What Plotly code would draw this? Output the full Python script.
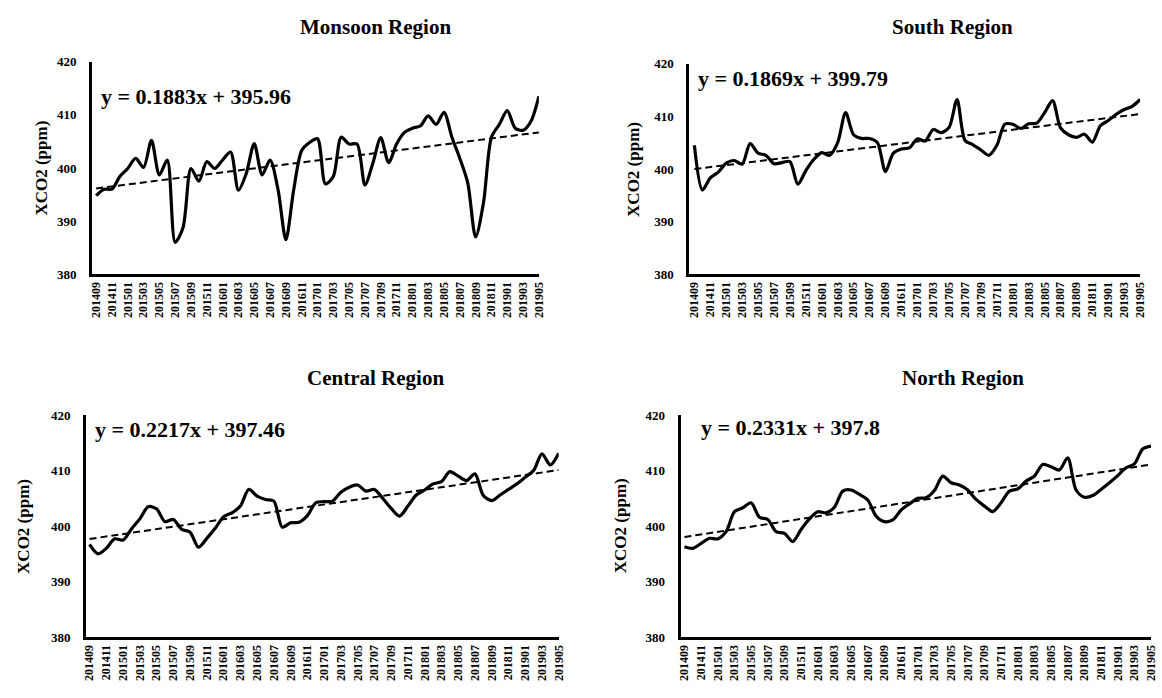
import plotly.graph_objects as go
import pandas as pd

# ---------------- data ----------------
months = [d.strftime("%Y%m") for d in pd.date_range("2014-09-01", "2019-05-01", freq="MS")]
tick_labels = months[::2]

monsoon = [394.8, 396.0, 396.0, 398.4, 399.9, 401.8, 400.1, 405.2, 398.7, 401.5,
           386.0, 388.8, 399.9, 397.5, 401.2, 399.9, 401.5, 403.0, 395.8, 399.0,
           404.6, 398.7, 401.5, 396.0, 386.5, 396.0, 403.3, 404.8, 405.5, 397.0,
           398.4, 405.8, 404.5, 404.5, 396.8, 400.9, 405.7, 401.0, 404.5, 406.7,
           407.5, 407.9, 409.8, 408.2, 410.5, 405.8, 401.8, 397.2, 387.0, 393.5,
           405.8, 408.2, 410.8, 407.5, 407.1, 408.8, 413.5]
south = [404.5, 396.0, 398.3, 399.4, 401.1, 401.6, 400.9, 404.8, 403.0, 402.6,
         401.0, 401.2, 401.4, 397.1, 399.7, 401.8, 403.1, 402.6, 405.0, 410.7,
         406.5, 405.8, 405.8, 405.0, 399.5, 403.0, 403.8, 404.0, 405.7, 405.3,
         407.5, 406.9, 407.9, 413.2, 405.4, 404.6, 403.6, 402.6, 404.5, 408.5,
         408.5, 407.7, 408.6, 408.7, 410.7, 413.0, 407.8, 406.5, 406.0, 406.6,
         405.1, 408.2, 409.2, 410.4, 411.3, 411.9, 413.2]
central = [396.7, 395.0, 396.0, 397.7, 397.5, 399.5, 401.3, 403.5, 403.1, 400.8,
           401.2, 399.4, 398.9, 396.2, 397.8, 399.6, 401.7, 402.4, 403.6, 406.6,
           405.4, 404.8, 404.5, 399.8, 400.6, 400.7, 401.9, 404.2, 404.4, 404.5,
           406.1, 407.0, 407.4, 406.3, 406.6, 405.0, 403.2, 401.8, 403.6, 405.6,
           406.5, 407.6, 408.0, 409.8, 409.0, 408.2, 409.4, 405.5, 404.6, 405.6,
           406.6, 407.6, 408.8, 410.0, 413.0, 411.0, 413.1]
north = [396.3, 396.0, 396.9, 397.8, 397.7, 399.0, 402.6, 403.3, 404.2, 401.6,
         401.2, 399.0, 398.7, 397.2, 399.4, 401.3, 402.6, 402.4, 403.4, 406.3,
         406.5, 405.7, 404.7, 401.8, 400.8, 401.1, 402.9, 404.0, 405.0, 405.1,
         406.4, 409.0, 407.8, 407.4, 406.5, 404.8, 403.6, 402.6, 404.2, 406.3,
         406.7, 408.1, 409.0, 411.1, 410.7, 410.1, 412.3, 406.5, 405.2, 405.5,
         406.6, 407.8, 409.1, 410.5, 411.2, 413.9, 414.4]

region_names = ["Monsoon Region", "South Region", "Central Region", "North Region"]
slopes = [0.1883, 0.1869, 0.2217, 0.2331]
intercepts = [395.96, 399.79, 397.46, 397.8]
equations = ["y = 0.1883x + 395.96", "y = 0.1869x + 399.79",
             "y = 0.2217x + 397.46", "y = 0.2331x + 397.8"]
series = [monsoon, south, central, north]

# ---------------- layout helpers ----------------
W, H = 1162, 698
FONT = "Liberation Serif"

def fx(px):
    return px / W

def fy(py):
    return 1 - py / H

# panel geometry in pixels: (left, right, top, bottom, x-range start)
panels = [
    (89, 540, 56, 273, -0.5),
    (692, 1147, 58, 273, -0.62),
    (83, 560, 417, 644, -0.4),
    (683, 1158, 417, 644, -0.47),
]
titles_pos = [(375, 20), (958, 20), (375, 379), (968, 379)]
eq_pos = [(96, 91), (699, 73), (90, 432), (702, 430)]
ytitle_x = [38, 636, 19, 622]

fig = go.Figure()
annotations = []

for k in range(4):
    xa = "x" if k == 0 else f"x{k+1}"
    ya = "y" if k == 0 else f"y{k+1}"
    vals = series[k]
    trend = [slopes[k] * (i + 1) + intercepts[k] for i in range(len(months))]
    fig.add_trace(go.Scatter(x=months, y=vals, mode="lines",
                             line=dict(color="black", width=3.2, shape="spline", smoothing=0.8),
                             xaxis=xa, yaxis=ya, showlegend=False, hoverinfo="skip"))
    fig.add_trace(go.Scatter(x=months, y=trend, mode="lines",
                             line=dict(color="black", width=2, dash="7px,4px"),
                             xaxis=xa, yaxis=ya, showlegend=False, hoverinfo="skip"))
    l, r, t, b, xs = panels[k]
    xkey = "xaxis" if k == 0 else f"xaxis{k+1}"
    ykey = "yaxis" if k == 0 else f"yaxis{k+1}"
    fig.update_layout(**{
        xkey: dict(domain=[fx(l), fx(r)], anchor=ya, type="category",
                   range=[xs, 56], tickmode="array", tickvals=tick_labels,
                   ticktext=tick_labels, tickangle=-90, showgrid=False,
                   showline=True, linecolor="black", linewidth=3, ticks="",
                   ticklabeloverflow="allow", ticklabelstandoff=0,
                   tickfont=dict(family=FONT, size=12, color="black", weight="bold"),
                   zeroline=False),
        ykey: dict(domain=[fy(b), fy(t)], anchor=xa, range=[380, 420],
                   tickvals=[380, 390, 400, 410, 420], showgrid=False,
                   showline=True, linecolor="black", linewidth=3, ticks="",
                   ticklabelstandoff=10,
                   tickfont=dict(family=FONT, size=13, color="black", weight="bold"),
                   zeroline=False),
    })
    tx, ty = titles_pos[k]
    annotations.append(dict(text=region_names[k], x=fx(tx), y=fy(ty), xref="paper", yref="paper",
                            showarrow=False, xanchor="center", yanchor="middle",
                            font=dict(family=FONT, size=21, color="black", weight="bold")))
    ex, ey = eq_pos[k]
    annotations.append(dict(text=equations[k], x=fx(ex), y=fy(ey), xref="paper", yref="paper",
                            showarrow=False, xanchor="left", yanchor="middle",
                            font=dict(family=FONT, size=22, color="black", weight="bold")))
    annotations.append(dict(text="XCO2 (ppm)", x=fx(ytitle_x[k]), y=fy((t + b) / 2),
                            xref="paper", yref="paper", showarrow=False, textangle=-90,
                            xanchor="center", yanchor="middle",
                            font=dict(family=FONT, size=17, color="black", weight="bold")))

fig.update_layout(width=W, height=H, margin=dict(l=0, r=0, t=0, b=0),
                  paper_bgcolor="white", plot_bgcolor="white",
                  annotations=annotations, showlegend=False)

fig.write_html("out.html", config={"displayModeBar": False},
               post_script="document.body.style.margin='0';")
